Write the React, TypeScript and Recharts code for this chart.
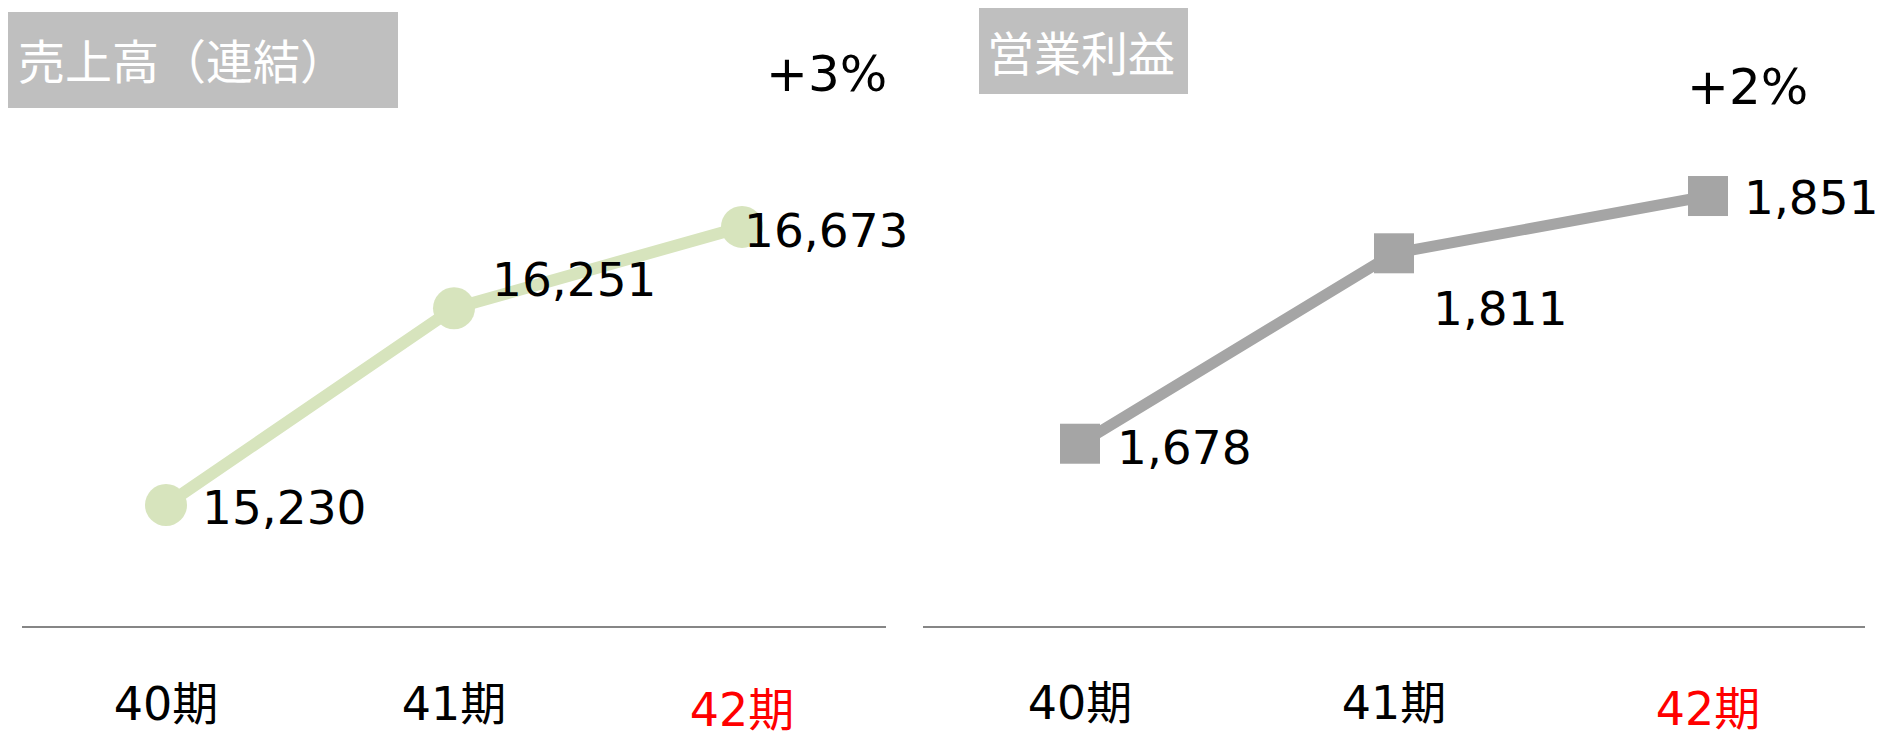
import { LabelList, Line, LineChart, XAxis, YAxis } from "recharts";

const periods = ["40期", "41期", "42期"];
const sales = [15230, 16251, 16673];
const operatingProfit = [1678, 1811, 1851];
const salesTitle = "売上高（連結）";
const profitTitle = "営業利益";
const salesGrowth = "+3%";
const profitGrowth = "+2%";

const salesData = periods.map((period, i) => ({ period, value: sales[i] }));
const profitData = periods.map((period, i) => ({
  period,
  value: operatingProfit[i],
}));

const FONT = '"DejaVu Sans", "Noto Sans CJK JP", sans-serif';
const GREEN = "#d7e4bd";
const GRAY = "#a5a5a5";

function makeTick(dys: number[]) {
  return (props: any) => {
    const { x, y, payload } = props;
    const i = payload.index;
    return (
      <text
        x={x}
        y={y + dys[i]}
        textAnchor="middle"
        dominantBaseline="central"
        fontFamily={FONT}
        fontSize={46}
        fill={i === periods.length - 1 ? "#ff0000" : "#000"}
      >
        {payload.value}
      </text>
    );
  };
}

function makeLabel(offsets: [number, number][]) {
  return (props: any) => {
    const { x, y, value, index } = props;
    const [dx, dy] = offsets[index];
    return (
      <text
        x={x + dx}
        y={y + dy}
        dominantBaseline="central"
        fontFamily={FONT}
        fontSize={47}
        fill="#000"
      >
        {Number(value).toLocaleString("en-US")}
      </text>
    );
  };
}

const titleStyle = {
  position: "absolute" as const,
  background: "#bfbfbf",
  color: "#fff",
  fontFamily: '"Noto Sans CJK JP", sans-serif',
  fontSize: 47,
  whiteSpace: "nowrap" as const,
  boxSizing: "border-box" as const,
};

const growthStyle = {
  position: "absolute" as const,
  fontFamily: FONT,
  fontSize: 50,
  lineHeight: "50px",
  color: "#000",
};

export default function App() {
  return (
    <div
      style={{
        position: "absolute",
        left: 0,
        top: 0,
        width: 1883,
        height: 741,
        background: "#fff",
        overflow: "hidden",
      }}
    >
      <div style={{ position: "absolute", left: 0, top: 0 }}>
        <LineChart
          width={940}
          height={741}
          data={salesData}
          margin={{ top: 60, right: 54, bottom: 0, left: 22 }}
        >
          <XAxis
            dataKey="period"
            height={114}
            padding={{ left: 144, right: 144 }}
            tickLine={false}
            tickSize={0}
            tickMargin={0}
            axisLine={{ stroke: "#868686", strokeWidth: 2 }}
            tick={makeTick([77, 77, 83])}
          />
          <YAxis hide type="number" domain={[14597, 17539]} allowDataOverflow />
          <Line
            dataKey="value"
            stroke={GREEN}
            strokeWidth={12}
            isAnimationActive={false}
            dot={(p: any) => (
              <circle key={`d${p.index}`} cx={p.cx} cy={p.cy} r={21} fill={GREEN} />
            )}
            activeDot={false}
          >
            <LabelList
              dataKey="value"
              content={makeLabel([
                [36, 2],
                [38, -29],
                [2, 4],
              ])}
            />
          </Line>
        </LineChart>
      </div>

      <div style={{ position: "absolute", left: 900, top: 0 }}>
        <LineChart
          width={983}
          height={741}
          data={profitData}
          margin={{ top: 60, right: 18, bottom: 0, left: 23 }}
        >
          <XAxis
            dataKey="period"
            height={114}
            padding={{ left: 157, right: 157 }}
            tickLine={false}
            tickSize={0}
            tickMargin={0}
            axisLine={{ stroke: "#868686", strokeWidth: 2 }}
            tick={makeTick([76, 76, 82])}
          />
          <YAxis hide type="number" domain={[1550, 1946]} allowDataOverflow />
          <Line
            dataKey="value"
            stroke={GRAY}
            strokeWidth={11}
            isAnimationActive={false}
            dot={(p: any) => (
              <rect
                key={`s${p.index}`}
                x={p.cx - 20}
                y={p.cy - 20}
                width={40}
                height={40}
                fill={GRAY}
              />
            )}
            activeDot={false}
          >
            <LabelList
              dataKey="value"
              content={makeLabel([
                [37, 4],
                [39, 55],
                [36, 1],
              ])}
            />
          </Line>
        </LineChart>
      </div>

      <div
        style={{
          ...titleStyle,
          left: 8,
          top: 12,
          width: 390,
          height: 96,
          lineHeight: "94px",
          paddingLeft: 10,
        }}
      >
        {salesTitle}
      </div>
      <div
        style={{
          ...titleStyle,
          left: 979,
          top: 8,
          width: 209,
          height: 86,
          lineHeight: "86px",
          paddingLeft: 8,
        }}
      >
        {profitTitle}
      </div>

      <div style={{ ...growthStyle, left: 766, top: 49 }}>{salesGrowth}</div>
      <div style={{ ...growthStyle, left: 1687, top: 62 }}>{profitGrowth}</div>
    </div>
  );
}
